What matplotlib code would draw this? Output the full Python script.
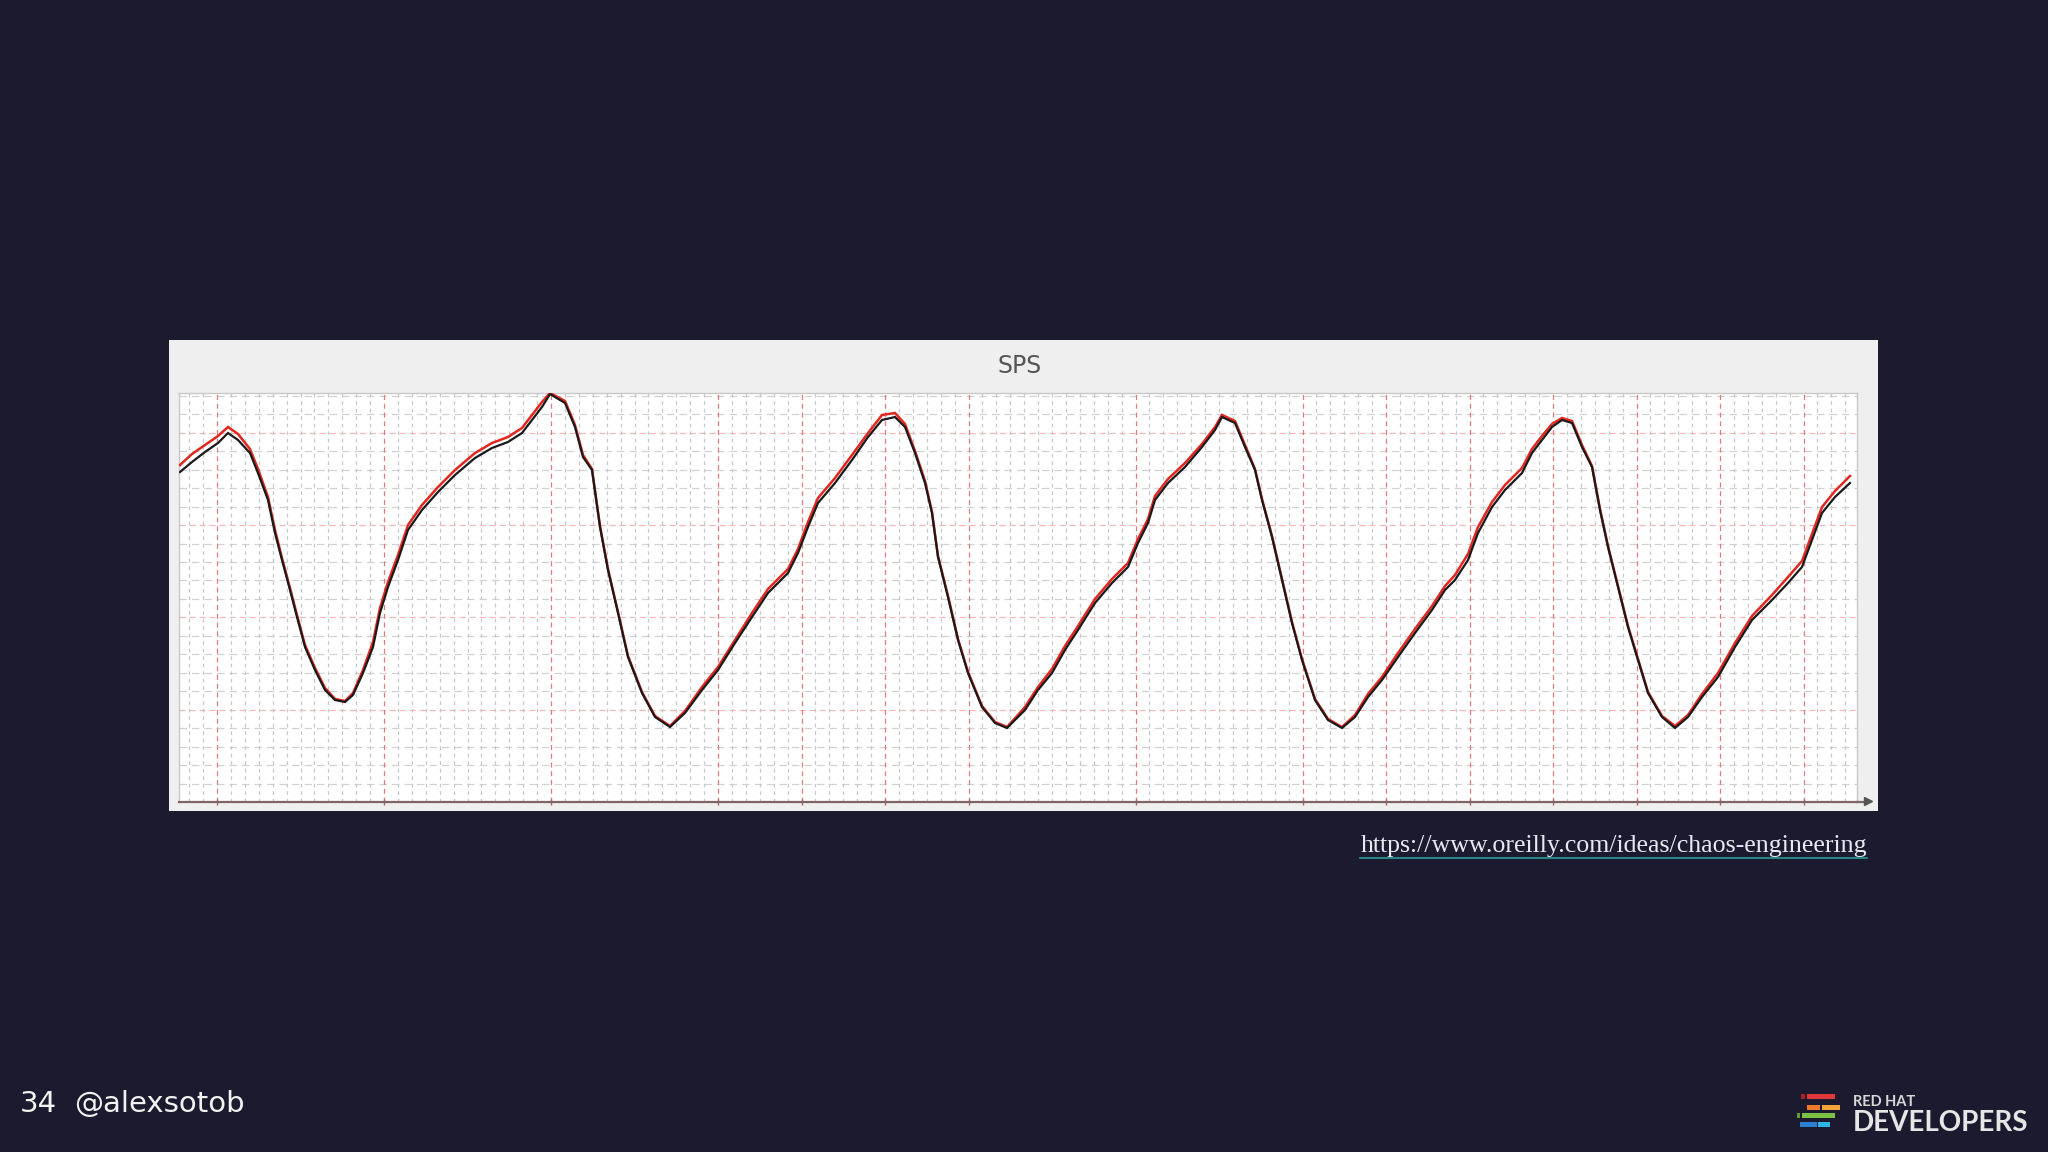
import matplotlib
matplotlib.use('Agg')
import matplotlib.pyplot as plt
from matplotlib.patches import Rectangle
from matplotlib.lines import Line2D

# ---------------- data ----------------
t = [1, 13, 26, 39, 49, 59, 71, 79, 89, 96,
     103, 111, 118, 126, 136, 146, 156, 166, 174, 184,
     194, 201, 209, 219, 229, 243, 259, 276, 296, 313,
     329, 343, 353, 363, 371, 386, 396, 404, 413,
     421, 429, 439, 449, 463, 476, 491, 506, 523, 539,
     556, 573, 589, 609, 619, 629, 639, 656, 673, 689,
     703, 716, 726, 736, 746, 753, 759, 769, 779, 789,
     803, 816, 828, 839,
     846, 859, 873, 886, 899, 916, 933, 949, 959, 969,
     976, 989, 1006, 1023, 1036, 1043, 1056, 1066, 1076, 1083,
     1093, 1103, 1113, 1123, 1136, 1149, 1163, 1176, 1189, 1203,
     1219, 1236, 1253, 1266,
     1276, 1289, 1299, 1313, 1326, 1343, 1353, 1363, 1373, 1383,
     1393, 1403, 1413, 1421, 1429, 1439, 1449, 1459, 1469, 1483,
     1496, 1509, 1523, 1539, 1556, 1573, 1593, 1609, 1623, 1633,
     1643, 1656, 1671]

sps_black = [330, 340, 350, 359, 369, 362, 349, 329, 302, 269,
             242, 212, 185, 155, 132, 112, 102, 100, 107, 129,
             155, 189, 215, 242, 272, 292, 310, 327, 344, 354,
             360, 369, 382, 395, 408, 399, 375, 345, 332,
             275, 232, 189, 145, 109, 85, 75, 89, 112, 132,
             159, 185, 209, 229, 249, 275, 299, 319, 342, 365,
             382, 385, 375, 349, 319, 289, 245, 205, 162, 129,
             95, 79, 74, 85,
             92, 112, 129, 152, 172, 199, 219, 235, 259, 279,
             302, 319, 335, 355, 372, 385, 379, 355, 332, 302,
             265, 222, 179, 142, 102, 82, 74, 85, 105, 122,
             145, 169, 192, 212,
             222, 242, 269, 295, 312, 329, 349, 362, 375, 382,
             379, 355, 335, 292, 255, 215, 175, 142, 109, 85,
             74, 85, 105, 125, 155, 182, 202, 219, 235, 262,
             289, 305, 319]

sps_red = [337, 348, 357, 366, 375, 368, 353, 333, 305, 272,
           244, 214, 187, 157, 134, 114, 103, 101, 109, 132,
           160, 194, 220, 247, 277, 297, 315, 332, 349, 359,
           365, 374, 387, 400, 409, 401, 377, 347, 333,
           276, 233, 190, 146, 110, 86, 76, 91, 115, 135,
           162, 189, 213, 233, 253, 280, 304, 324, 347, 369,
           387, 389, 378, 351, 321, 290, 246, 206, 163, 130,
           96, 80, 75, 87,
           95, 115, 133, 156, 176, 203, 223, 239, 263, 283,
           306, 323, 339, 358, 375, 387, 381, 357, 333, 303,
           266, 223, 180, 143, 103, 83, 75, 87, 108, 125,
           149, 173, 196, 216,
           227, 248, 275, 300, 317, 334, 353, 366, 378, 384,
           381, 357, 336, 293, 256, 216, 176, 143, 110, 86,
           76, 87, 108, 129, 159, 186, 207, 225, 241, 268,
           295, 311, 326]

title = "SPS"
url = "https://www.oreilly.com/ideas/chaos-engineering"
slide_no = "34"
handle = "@alexsotob"
red_major_idx = [0, 2, 4, 6, 7, 8, 9, 11, 13, 14, 15, 16, 17, 18, 19]

# ---------------- layout ----------------
W, H = 2048, 1152
BG = '#1c1a2e'


def fx(px):
    return px / W


def fy(py):
    return 1 - py / H


fig = plt.figure(figsize=(20.48, 11.52), dpi=100)
fig.patch.set_facecolor(BG)

# light grey chart panel (behind the axes)
fig.patches.append(Rectangle((fx(169), fy(811)), fx(1878) - fx(169), fy(340) - fy(811),
                             transform=fig.transFigure, facecolor='#efefef',
                             edgecolor='none', zorder=-5))

ax = fig.add_axes([fx(179), fy(802), fx(1857) - fx(179), fy(393) - fy(802)])
ax.set_zorder(1)
ax.set_facecolor('white')
ax.set_xlim(0, 1678)
ax.set_ylim(0, 409)

# grid
major_y = 92.3
minor_y = major_y / 5
k = 1
while k * minor_y < 409:
    y = k * minor_y
    if k % 5 == 0:
        ax.axhline(y, color='#efb9b9', lw=0.9, dashes=(5, 3), zorder=1)
    else:
        ax.axhline(y, color='#d2d2d2', lw=0.9, dashes=(6, 4), zorder=1)
    k += 1

major_x = 83.5
x0 = 38
minor_x = major_x / 6
j = -2
while x0 + j * minor_x < 1678:
    x = x0 + j * minor_x
    if j % 6 == 0 and (j // 6) in red_major_idx:
        ax.axvline(x, color='#df7b7f', lw=0.9, dashes=(4, 3), zorder=1)
    else:
        ax.axvline(x, color='#c8c8c8', lw=0.9, dashes=(3, 3), zorder=1)
    j += 1

for s in ['left', 'top', 'right']:
    ax.spines[s].set_color('#c8c8c8')
    ax.spines[s].set_linewidth(1.0)
ax.spines['bottom'].set_color('#7d6565')
ax.spines['bottom'].set_linewidth(1.6)
ax.set_xticks([x0 + i * major_x for i in red_major_idx])
ax.set_xticklabels([])
ax.set_yticks([])
ax.tick_params(axis='x', length=4, direction='inout', color='#b06060', width=1)

# series
ax.plot(t, sps_red, color='#e3261f', lw=1.8, zorder=3, solid_joinstyle='miter')
ax.plot(t, sps_black, color='#1a1a1a', lw=1.6, zorder=4, solid_joinstyle='miter')

# axis arrow at the right end
fig.lines.append(Line2D([fx(1857), fx(1866)], [fy(802), fy(802)], transform=fig.transFigure,
                        color='#7d6565', lw=1.6))
fig.lines.append(Line2D([fx(1868)], [fy(801)], transform=fig.transFigure, marker='>',
                        markersize=6, color='#555555', lw=0))

# title
fig.text(fx(1020), fy(366), title, ha='center', va='center', fontsize=17,
         color='#555555', family='DejaVu Sans')

# url with underline
url_t = fig.text(fx(1867), fy(846), url, ha='right', va='center', fontsize=18.6,
                 color='#e8e8f0', family='Liberation Serif')
fig.canvas.draw()
bb = url_t.get_window_extent()
fig.lines.append(Line2D([bb.x0 / W, bb.x1 / W], [fy(858), fy(858)], transform=fig.transFigure,
                        color='#2a9a9a', lw=1.2))

# footer
fig.text(fx(20), fy(1112), slide_no, ha='left', va='baseline', fontsize=21,
         color='#f2f2f2', family='DejaVu Sans')
fig.text(fx(74), fy(1112), handle, ha='left', va='baseline', fontsize=21,
         color='#f2f2f2', family='DejaVu Sans')

# Red Hat Developers logo
bars = [
    (1801, 1805, 1094, '#b02020'), (1807, 1835, 1094, '#e0383a'),
    (1807, 1820, 1105, '#ee7a2a'), (1822, 1840, 1105, '#f2a33a'),
    (1797, 1800, 1113, '#5aa030'), (1802, 1835, 1113, '#7cc242'),
    (1800, 1817, 1122, '#2a7fd0'), (1818, 1830, 1122, '#2bb5e8'),
]
for xa, xb, ya, c in bars:
    fig.patches.append(Rectangle((fx(xa), fy(ya + 5)), fx(xb) - fx(xa), fy(ya) - fy(ya + 5),
                                 transform=fig.transFigure, facecolor=c, edgecolor='none'))
fig.text(fx(1853), fy(1102), "RED HAT", ha='left', va='center', fontsize=10.5,
         color='#d8d8d8', family='Lato', fontweight='bold')
fig.text(fx(1853), fy(1123), "DEVELOPERS", ha='left', va='center', fontsize=20,
         color='#e6e6e6', family='Lato', fontweight='bold')

fig.savefig('out.png', dpi=100, facecolor=fig.get_facecolor())
